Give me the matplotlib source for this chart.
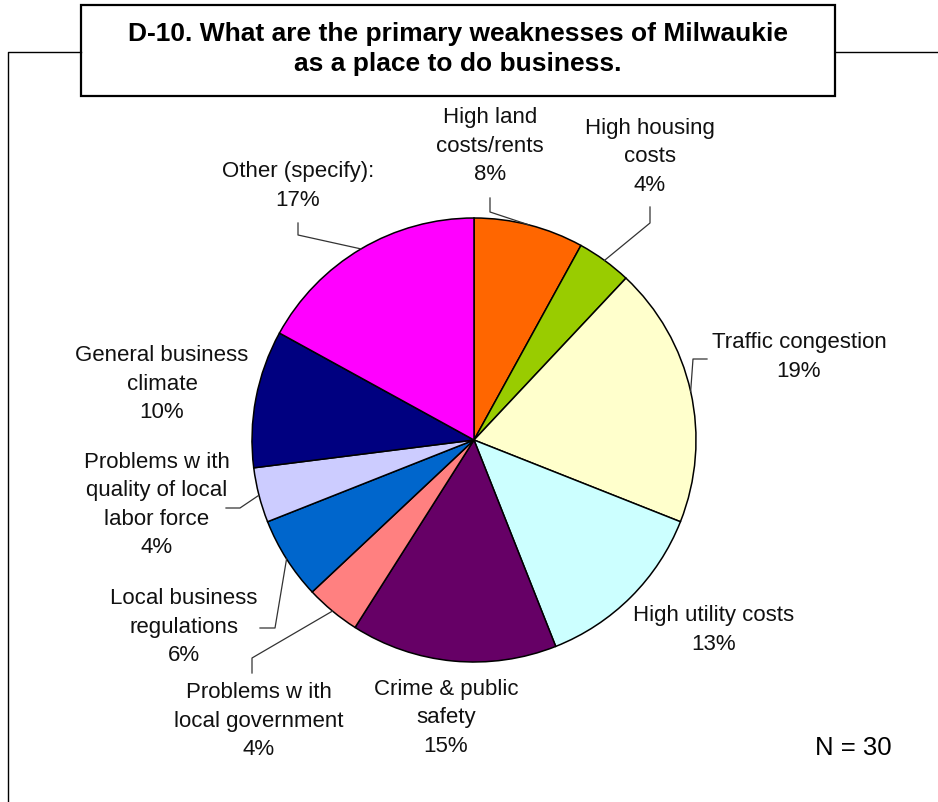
import numpy as np
import matplotlib.pyplot as plt
from matplotlib.patches import Rectangle

plt.rcParams['font.family'] = ['Liberation Sans', 'DejaVu Sans']

# survey responses, clockwise from 12 o'clock
categories = [
    "High land\ncosts/rents",
    "High housing\ncosts",
    "Traffic congestion",
    "High utility costs",
    "Crime & public\nsafety",
    "Problems w ith\nlocal government",
    "Local business\nregulations",
    "Problems w ith\nquality of local\nlabor force",
    "General business\nclimate",
    "Other (specify):",
]
percents = [8, 4, 19, 13, 15, 4, 6, 4, 10, 17]
colors = ["#FF6600", "#99CC00", "#FFFFCC", "#CCFFFF", "#660066",
          "#FF8080", "#0066CC", "#CCCCFF", "#000080", "#FF00FF"]

W, H = 938, 802
cx, cy, R = 474, 440, 222


def fy(y):
    # pixel rows are counted from the top
    return H - y


fig = plt.figure(figsize=(W / 100, H / 100), dpi=100)
ax = fig.add_axes([0, 0, 1, 1])
ax.set_xlim(0, W)
ax.set_ylim(0, H)
ax.set_aspect('equal')
ax.axis('off')

# outer frame with the title box sitting on top of it
ax.plot([8, 8, 81], [0, fy(52), fy(52)], color='black', lw=1.0)
ax.plot([835, W], [fy(52), fy(52)], color='black', lw=1.0)
ax.add_patch(Rectangle((81, fy(96)), 835 - 81, 91, facecolor='white',
                       edgecolor='black', lw=1.6))
ax.text(458, fy(49), "D-10. What are the primary weaknesses of Milwaukie\nas a place to do business.",
        ha='center', va='center', fontsize=19, fontweight='bold', linespacing=1.34)

wedges, _ = ax.pie(percents, colors=colors, startangle=90, counterclock=False,
                   center=(cx, fy(cy)), radius=R,
                   wedgeprops=dict(edgecolor='black', linewidth=1.1))
ax.set_xlim(0, W)
ax.set_ylim(0, H)

# label centres and leader elbows (None = no leader)
label_pos = [(490, 146), (650, 157), (799, 357), (714, 630), (446, 718),
             (259, 721), (184, 627), (157, 505), (162, 384), (298, 186)]
leaders = [
    [(490, 198), (490, 212)],
    [(650, 207), (650, 223)],
    [(707, 359), (693, 359)],
    None,
    None,
    [(252, 673), (252, 658)],
    [(260, 628), (275, 628)],
    [(226, 508), (240, 508)],
    None,
    [(298, 223), (298, 235)],
]

cum = np.cumsum([0] + percents[:-1])
for i, (cat, p) in enumerate(zip(categories, percents)):
    lx, ly = label_pos[i]
    ax.text(lx, fy(ly), f"{cat}\n{p}%", ha='center', va='center',
            fontsize=16, linespacing=1.45, color='#111111')
    if leaders[i] is not None:
        ang = np.deg2rad((cum[i] + p / 2) / 100 * 360)
        ex, ey = cx + R * np.sin(ang), cy - R * np.cos(ang)
        pts = leaders[i] + [(ex, ey)]
        ax.plot([q[0] for q in pts], [fy(q[1]) for q in pts],
                color='#333333', lw=0.9)

ax.text(853, fy(748), "N = 30", ha='center', va='center', fontsize=18.5)

fig.savefig("out.png", dpi=100)
